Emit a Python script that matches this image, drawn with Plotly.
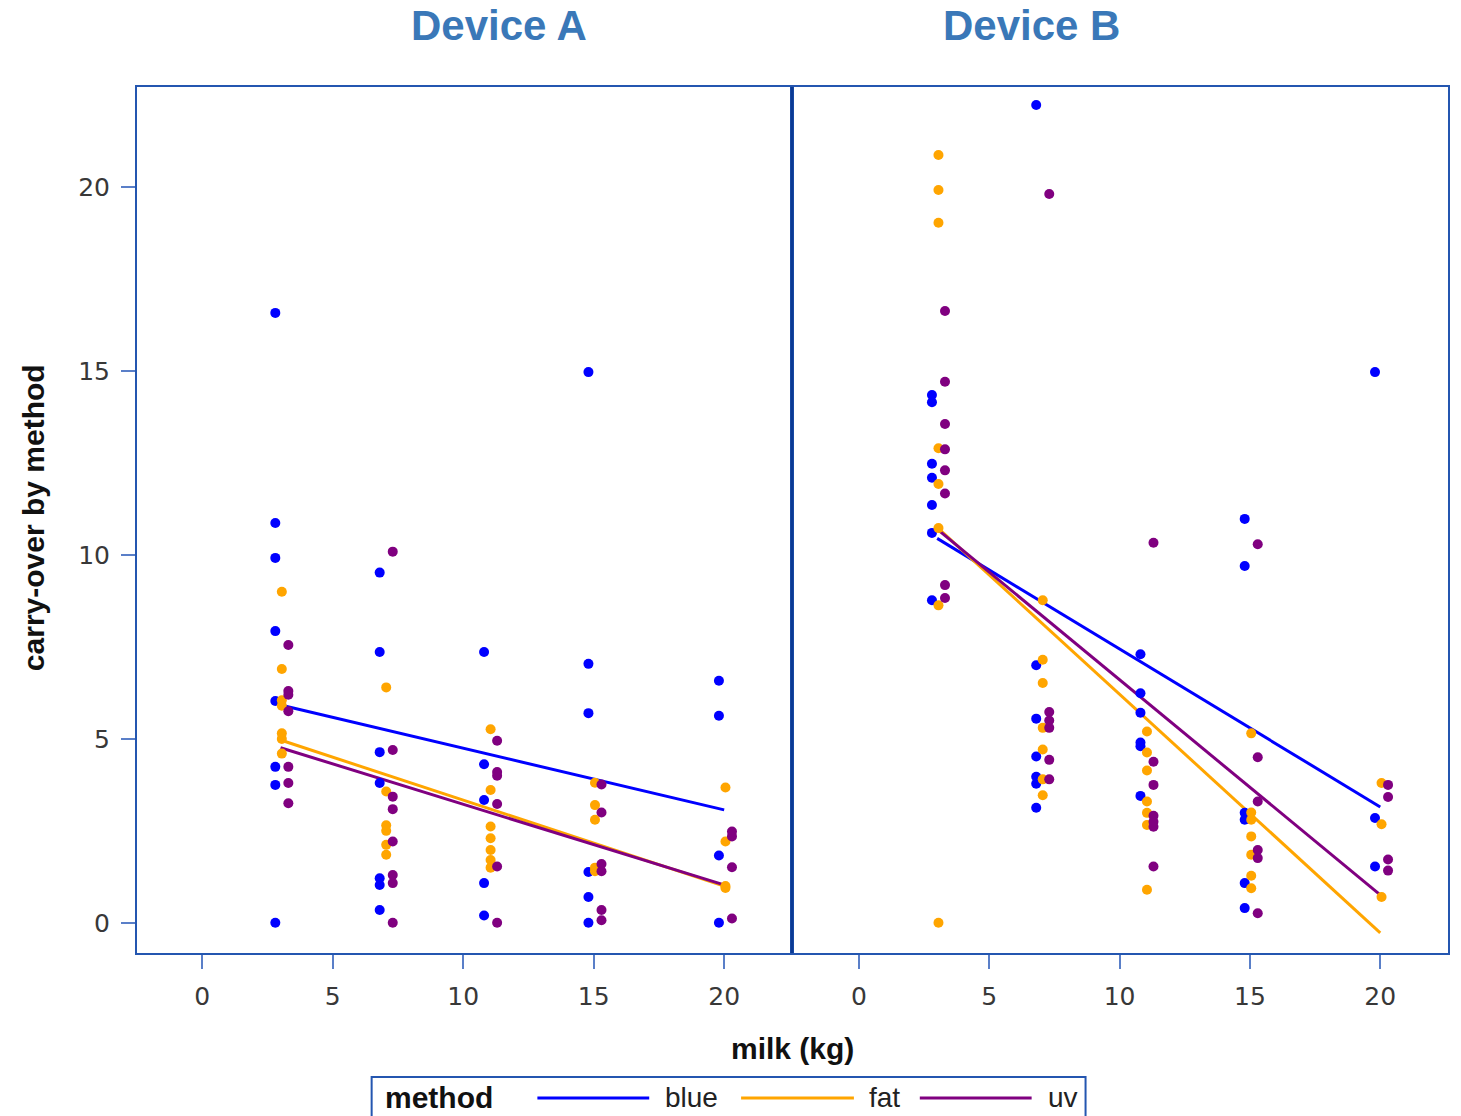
import plotly.graph_objects as go
from plotly.subplots import make_subplots

# ---------------- data ----------------
milk_levels = [3, 7, 11, 15, 20]
methods = ["blue", "fat", "uv"]
panel_titles = ["Device A", "Device B"]

# Device A: carry-over values at each milk level (one list per level)
A_blue = [
    [16.58, 10.87, 9.92, 7.93, 6.03, 4.24, 3.75, 0.0],
    [9.52, 7.36, 4.64, 3.80, 1.21, 1.03, 0.35],
    [7.36, 4.31, 3.34, 1.08, 0.2],
    [14.97, 7.04, 5.7, 1.38, 0.7, 0.0],
    [6.58, 5.63, 1.83, 0.0],
]
A_fat = [
    [9.0, 6.9, 6.05, 5.9, 5.15, 5.0, 4.6],
    [6.40, 3.57, 2.65, 2.5, 2.12, 1.85],
    [5.26, 3.61, 2.62, 2.30, 1.98, 1.71, 1.5],
    [3.81, 3.2, 2.8, 1.5, 1.4],
    [3.68, 2.21, 1.0, 0.95],
]
A_uv = [
    [7.55, 6.3, 6.2, 5.75, 4.24, 3.8, 3.25],
    [10.09, 4.70, 3.43, 3.09, 2.21, 1.30, 1.08, 0.0],
    [4.95, 4.1, 4.0, 3.23, 1.53, 0.0],
    [3.76, 3.0, 1.6, 1.4, 0.35, 0.07],
    [2.48, 2.35, 1.51, 0.12],
]

# Device B
B_blue = [
    [14.35, 14.15, 12.48, 12.1, 11.36, 10.6, 8.77],
    [22.23, 7.0, 5.55, 4.52, 3.97, 3.78, 3.13],
    [7.3, 6.24, 5.71, 4.9, 4.8, 3.45],
    [10.98, 9.70, 2.99, 2.8, 1.08, 0.4],
    [14.97, 2.85, 1.53],
]
B_fat = [
    [20.87, 19.92, 19.03, 12.9, 11.93, 10.73, 8.63, 0.0],
    [8.77, 7.15, 6.52, 5.3, 4.71, 3.9, 3.47],
    [5.2, 4.63, 4.14, 3.3, 2.99, 2.66, 0.9],
    [5.15, 3.0, 2.8, 2.35, 1.85, 1.28, 0.94],
    [3.8, 2.68, 0.7],
]
B_uv = [
    [16.63, 14.71, 13.56, 12.87, 12.3, 11.67, 9.18, 8.83],
    [19.81, 5.73, 5.5, 5.3, 4.43, 3.9],
    [10.33, 4.38, 3.75, 2.91, 2.75, 2.61, 1.53],
    [10.29, 4.5, 3.3, 1.98, 1.76, 0.26],
    [3.75, 3.42, 1.72, 1.42],
]

# Regression lines (value at first and last milk level)
fit_milk = [3, 20]
A_fit_blue = [5.92, 3.07]
A_fit_fat = [4.97, 1.0]
A_fit_uv = [4.76, 1.03]
B_fit_blue = [10.45, 3.15]
B_fit_fat = [10.75, -0.27]
B_fit_uv = [10.7, 0.76]

x_ticks = [0, 5, 10, 15, 20]
y_ticks = [0, 5, 10, 15, 20]

# ---------------- styles ----------------
colors = {"blue": "#0000FF", "fat": "#FFA500", "uv": "#800080"}
jitter = {"blue": -0.2, "fat": 0.05, "uv": 0.3}
FRAME = "#2456B0"
TICKC = "#5A7FC8"
FONT = "Liberation Sans, Arial, sans-serif"
TICKFONT = "DejaVu Sans, sans-serif"

W, H = 1461, 1116
L, R, T, B = 137, 11, 87, 163
PW, PH = W - L - R, H - T - B


def px(xp):
    return (xp - L) / PW


def py(yp):
    return (H - B - yp) / PH


fig = make_subplots(rows=1, cols=2, shared_yaxes=True, horizontal_spacing=0)

data = {
    1: {"blue": A_blue, "fat": A_fat, "uv": A_uv},
    2: {"blue": B_blue, "fat": B_fat, "uv": B_uv},
}
fits = {
    1: {"blue": A_fit_blue, "fat": A_fit_fat, "uv": A_fit_uv},
    2: {"blue": B_fit_blue, "fat": B_fit_fat, "uv": B_fit_uv},
}

for col in (1, 2):
    for m in methods:
        fig.add_trace(go.Scatter(
            x=fit_milk, y=fits[col][m], mode="lines",
            line=dict(color=colors[m], width=3), showlegend=False,
            hoverinfo="skip"), row=1, col=col)
    for m in methods:
        xs, ys = [], []
        for lvl, vals in zip(milk_levels, data[col][m]):
            for v in vals:
                xs.append(lvl + jitter[m])
                ys.append(v)
        fig.add_trace(go.Scatter(
            x=xs, y=ys, mode="markers", name=m,
            marker=dict(color=colors[m], size=10, line=dict(width=0)),
            showlegend=False), row=1, col=col)

axis_common = dict(
    showgrid=False, zeroline=False, showline=True, mirror=True,
    linecolor=FRAME, linewidth=2, ticks="outside", ticklen=14,
    tickcolor=TICKC, tickwidth=2,
    tickfont=dict(family=TICKFONT, size=25, color="#383838"),
)

split = (793 - L) / PW
fig.update_xaxes(range=[-2.5, 22.6], tickvals=x_ticks, domain=[0, split],
                 ticklabelstandoff=6, row=1, col=1, **axis_common)
fig.update_xaxes(range=[-2.57, 22.6], tickvals=x_ticks, domain=[split, 1],
                 ticklabelstandoff=6, row=1, col=2, **axis_common)
fig.update_yaxes(range=[-0.82, 22.72], tickvals=y_ticks, row=1, col=1,
                 ticklabelstandoff=6, **axis_common)
fig.update_yaxes(range=[-0.82, 22.72], tickvals=y_ticks, row=1, col=2,
                 showticklabels=False, ticks="", showgrid=False,
                 zeroline=False, showline=True, mirror=True,
                 linecolor=FRAME, linewidth=2)


def ann(text, xp, yp, size, color="#111111", xanchor="center", angle=0):
    return dict(text=text, x=px(xp), y=py(yp), xref="paper", yref="paper",
                xanchor=xanchor, yanchor="middle", showarrow=False,
                textangle=angle,
                font=dict(family=FONT, size=size, color=color))


annotations = [
    ann("<b>" + panel_titles[0] + "</b>", 500, 26, 42, "#3A78B8"),
    ann("<b>" + panel_titles[1] + "</b>", 1033, 26, 42, "#3A78B8"),
    ann("<b>milk (kg)</b>", 794, 1048, 30),
    ann("<b>carry-over by method</b>", 33, 518, 30, angle=-90),
    ann("<b>method</b>", 383, 1097, 30, xanchor="left"),
]

shapes = [
    # divider between panels (darker)
    dict(type="line", xref="paper", yref="paper", x0=split, x1=split,
         y0=0, y1=1, line=dict(color="#0B3A94", width=3)),
    # legend box
    dict(type="rect", xref="paper", yref="paper", x0=px(372), x1=px(1087),
         y0=py(1122), y1=py(1077), line=dict(color=FRAME, width=2),
         fillcolor="white"),
]

legend_items = [("blue", 538, 650, 664), ("fat", 742, 855, 868),
                ("uv", 921, 1033, 1047)]
for m, x0, x1, xt in legend_items:
    shapes.append(dict(type="line", xref="paper", yref="paper",
                       x0=px(x0), x1=px(x1), y0=py(1098), y1=py(1098),
                       line=dict(color=colors[m], width=3)))
    annotations.append(ann(m, xt, 1097, 28, "#222222", xanchor="left"))

fig.update_layout(
    width=W, height=H,
    margin=dict(l=L, r=R, t=T, b=B),
    paper_bgcolor="white", plot_bgcolor="white",
    showlegend=False,
    annotations=annotations, shapes=shapes,
)

fig.write_html(
    "out.html",
    config={"displayModeBar": False},
    post_script="document.body.style.margin='0';"
                "document.body.style.overflow='hidden';",
)
